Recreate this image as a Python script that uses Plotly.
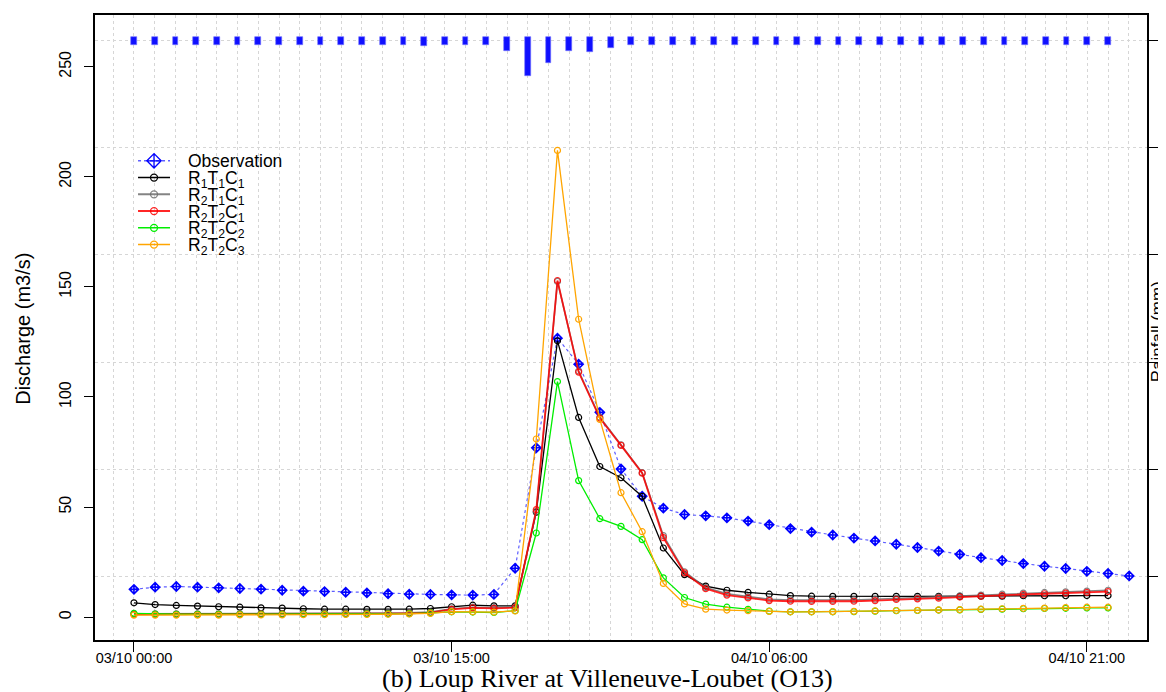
import pandas as pd
import plotly.graph_objects as go

# ---------------- data ----------------
start = "2015-10-03 00:00"
obs_times = pd.date_range(start, periods=48, freq="h")
model_times = obs_times[:47]
rain_times = obs_times

observation = [12.6, 13.6, 13.9, 13.6, 13.3, 13.0, 12.7, 12.2, 11.8, 11.6,
               11.3, 11.0, 10.6, 10.4, 10.3, 10.1, 10.0, 10.3, 22.2, 76.9,
               126.7, 114.9, 93.0, 67.3, 54.9, 49.5, 46.6, 46.0, 45.1, 43.6,
               42.0, 40.2, 38.6, 37.3, 35.9, 34.6, 33.1, 31.6, 30.0, 28.5,
               27.0, 25.7, 24.3, 23.1, 22.1, 20.8, 19.8, 18.7]

r1t1c1 = [6.5, 5.7, 5.3, 5.0, 4.7, 4.5, 4.2, 4.1, 3.8, 3.6,
          3.6, 3.5, 3.5, 3.6, 3.9, 4.7, 5.4, 5.1, 5.1, 47.7,
          125.5, 90.7, 68.4, 63.3, 54.8, 31.4, 19.3, 14.1, 12.2, 11.2,
          10.4, 9.8, 9.5, 9.4, 9.4, 9.4, 9.4, 9.4, 9.4, 9.4,
          9.5, 9.5, 9.7, 9.7, 9.7, 9.8, 9.8]

r2t1c1 = [1.5, 1.5, 1.5, 1.5, 1.5, 1.5, 1.6, 1.6, 1.6, 1.7,
          1.7, 1.8, 1.8, 1.9, 2.3, 3.8, 4.5, 4.3, 4.6, 48.0,
          152.5, 111.8, 90.8, 78.3, 65.6, 37.0, 20.6, 13.4, 10.6, 9.3,
          8.1, 7.8, 7.7, 7.7, 7.8, 8.1, 8.5, 8.8, 9.1, 9.6,
          10.0, 10.4, 10.9, 11.2, 11.5, 11.8, 12.2]

r2t2c1 = [1.3, 1.3, 1.3, 1.3, 1.3, 1.3, 1.4, 1.4, 1.4, 1.5,
          1.5, 1.6, 1.6, 1.7, 2.0, 3.5, 4.2, 4.0, 4.3, 48.8,
          152.9, 111.3, 90.4, 78.0, 65.4, 36.1, 20.1, 12.9, 10.0, 8.7,
          7.5, 7.2, 7.1, 7.1, 7.2, 7.5, 8.0, 8.3, 8.6, 9.1,
          9.5, 9.8, 10.3, 10.6, 10.9, 11.2, 11.6]

r2t2c2 = [1.7, 1.4, 1.3, 1.3, 1.3, 1.3, 1.3, 1.3, 1.4, 1.4,
          1.4, 1.5, 1.5, 1.6, 1.9, 2.4, 2.3, 2.1, 2.9, 38.2,
          107.0, 62.0, 44.7, 41.2, 35.2, 17.8, 8.9, 5.9, 4.5, 3.5,
          2.7, 2.4, 2.4, 2.4, 2.5, 2.7, 2.9, 3.0, 3.2, 3.3,
          3.5, 3.6, 3.8, 3.9, 4.0, 4.2, 4.2]

r2t2c3 = [0.9, 0.9, 0.9, 0.9, 0.9, 1.0, 1.0, 1.0, 1.1, 1.1,
          1.2, 1.2, 1.3, 1.4, 1.7, 2.5, 2.4, 2.3, 2.8, 80.9,
          212.0, 135.3, 89.8, 56.5, 38.8, 15.3, 6.0, 3.6, 3.2, 2.9,
          2.6, 2.4, 2.4, 2.5, 2.6, 2.8, 3.0, 3.1, 3.3, 3.4,
          3.6, 3.8, 4.0, 4.1, 4.3, 4.5, 4.5]

rainfall = [0.1, 0.1, 0.1, 0.1, 0.1, 0.1, 0.1, 0.1, 0.1, 0.1,
            0.1, 0.1, 0.1, 0.1, 0.2, 0.1, 0.1, 0.1, 0.7, 3.0,
            1.8, 0.7, 0.8, 0.4, 0.1, 0.1, 0.1, 0.1, 0.1, 0.1,
            0.1, 0.1, 0.1, 0.1, 0.1, 0.1, 0.1, 0.1, 0.1, 0.1,
            0.1, 0.1, 0.1, 0.1, 0.1, 0.1, 0.1, 0.1]

x_tick_vals = ["2015-10-03 00:00", "2015-10-03 15:00", "2015-10-04 06:00", "2015-10-04 21:00"]
x_tick_text = ["03/10 00:00", "03/10 15:00", "04/10 06:00", "04/10 21:00"]
y_ticks = [0, 50, 100, 150, 200, 250]
rain_ticks = [0, 10, 20, 30, 40, 50]

series_names = ["R<sub>1</sub>T<sub>1</sub>C<sub>1</sub>",
                "R<sub>2</sub>T<sub>1</sub>C<sub>1</sub>",
                "R<sub>2</sub>T<sub>2</sub>C<sub>1</sub>",
                "R<sub>2</sub>T<sub>2</sub>C<sub>2</sub>",
                "R<sub>2</sub>T<sub>2</sub>C<sub>3</sub>"]
series_values = [r1t1c1, r2t1c1, r2t2c1, r2t2c2, r2t2c3]
series_colors = ["#000000", "rgba(110,110,110,0.85)", "rgba(255,0,0,0.85)",
                 "#00ee00", "#FFA500"]
series_widths = [1.3, 1.6, 1.8, 1.3, 1.3]

# ---------------- styling constants ----------------
FONT = "Liberation Sans, Arial, sans-serif"
GRID = "#d6d6d6"
BAR_CAP = 0.33        # rounded-cap look of the rainfall bars (mm)
BAR_WIDTH_MS = 1.0e6  # bar width in ms

fig = go.Figure()

# rainfall bars (own overlaid axes, reversed)
fig.add_trace(go.Bar(
    x=rain_times, y=[v + 2 * BAR_CAP for v in rainfall], base=-BAR_CAP,
    width=BAR_WIDTH_MS, marker=dict(color="#1010ff", line=dict(width=0.6, color="#6f6fff")),
    xaxis="x2", yaxis="y2", showlegend=False, name="Rainfall"))

# observation
fig.add_trace(go.Scatter(
    x=obs_times, y=observation, mode="lines+markers", name="Observation",
    line=dict(color="rgba(40,40,255,0.75)", width=1.2, dash="dot"),
    marker=dict(symbol="diamond-cross-open", size=7, color="#0000ff", line=dict(width=1.6, color="#0000ff")),
    showlegend=False))

for name, vals, col, w in zip(series_names, series_values, series_colors, series_widths):
    fig.add_trace(go.Scatter(
        x=model_times, y=vals, mode="lines+markers", name=name,
        line=dict(color=col, width=w),
        marker=dict(symbol="circle-open", size=6, color=col, line=dict(width=1.2, color=col)),
        showlegend=False))

# ---------------- manual legend (glyphs on a hidden paper-like axis) ----------------
leg_x0, leg_x1, leg_text_x = 0.0409, 0.0713, 0.0865
leg_top, leg_step = 0.7667, 0.0268
leg_items = [("Observation", "rgba(40,40,255,0.75)", "dot", "diamond-cross-open", 11, "#0000ff", 1.2)] + \
    [(n, c, "solid", "circle-open", 7, c, w) for n, c, w in zip(series_names, series_colors, series_widths)]
annotations = []
for i, (label, lcol, dash, sym, msz, mcol, lw) in enumerate(leg_items):
    yy = leg_top - i * leg_step
    fig.add_trace(go.Scatter(
        x=[leg_x0, leg_x1], y=[yy, yy], mode="lines", line=dict(color=lcol, width=lw + 0.3, dash=dash),
        xaxis="x3", yaxis="y3", showlegend=False, hoverinfo="skip"))
    fig.add_trace(go.Scatter(
        x=[(leg_x0 + leg_x1) / 2], y=[yy], mode="markers",
        marker=dict(symbol=sym, size=msz, color=mcol, line=dict(width=1.3, color=mcol)),
        xaxis="x3", yaxis="y3", showlegend=False, hoverinfo="skip"))
    annotations.append(dict(text=label, x=leg_text_x, y=yy, xref="paper", yref="paper",
                            xanchor="left", yanchor="middle", showarrow=False,
                            font=dict(family=FONT, size=17.5, color="black"),
                            yshift=(-2 if "<sub>" in label else 0)))

# axis titles and caption
annotations += [
    dict(text="Discharge (m3/s)", x=-0.0684, y=0.498, xref="paper", yref="paper",
         textangle=-90, showarrow=False, xanchor="center", yanchor="middle",
         font=dict(family=FONT, size=20, color="black")),
    dict(text="Rainfall (mm)", x=1.0095, y=0.494, xref="paper", yref="paper",
         textangle=-90, showarrow=False, xanchor="center", yanchor="middle",
         font=dict(family=FONT, size=17, color="black")),
    dict(text="(b) Loup River at Villeneuve-Loubet (O13)", x=0.487, y=-0.0622, xref="paper", yref="paper",
         showarrow=False, xanchor="center", yanchor="middle",
         font=dict(family="Liberation Serif, Times New Roman, serif", size=26, color="black")),
]

# the page adds an 8px body margin, so the figure is 8px smaller and margins shifted
fig.update_layout(
    width=1158, height=684,
    margin=dict(l=87, r=19, t=5, b=52),
    paper_bgcolor="white", plot_bgcolor="white",
    bargap=0,
    annotations=annotations,
    xaxis=dict(type="date", range=["2015-10-02 22:09:36", "2015-10-04 23:50:24"],
               tickvals=x_tick_vals, ticktext=x_tick_text,
               ticks="outside", ticklen=10, tickwidth=1, tickcolor="black",
               ticklabelstandoff=-6,
               tickfont=dict(family=FONT, size=14.5, color="black"),
               showgrid=False, zeroline=False, showline=True, mirror=True,
               linecolor="black", linewidth=1.5),
    yaxis=dict(range=[-10.4, 273.5], tickvals=y_ticks, tickangle=-90,
               ticks="outside", ticklen=9, tickwidth=1, tickcolor="black",
               ticklabelstandoff=7,
               tickfont=dict(family=FONT, size=16, color="black"),
               showgrid=False, zeroline=False, showline=True, mirror=True,
               linecolor="black", linewidth=1.5),
    xaxis2=dict(type="date", overlaying="x", side="top",
                range=["2015-10-02 22:07:12", "2015-10-05 00:52:48"],
                tick0="2015-10-02 00:00", dtick=3600000,
                showticklabels=False, ticks="", showgrid=True,
                gridcolor=GRID, griddash="dot", gridwidth=1, zeroline=False, showline=False),
    yaxis2=dict(overlaying="y", side="right", range=[55.9, -2.35], tickvals=rain_ticks,
                showticklabels=False, ticks="outside", ticklen=9, tickwidth=1, tickcolor="black",
                showgrid=True, gridcolor=GRID, griddash="dot", gridwidth=1,
                zeroline=False, showline=True, linecolor="black", linewidth=1.5),
    xaxis3=dict(overlaying="x", range=[0, 1], visible=False, fixedrange=True),
    yaxis3=dict(overlaying="y", range=[0, 1], visible=False, fixedrange=True),
)

fig.write_html("out.html")
